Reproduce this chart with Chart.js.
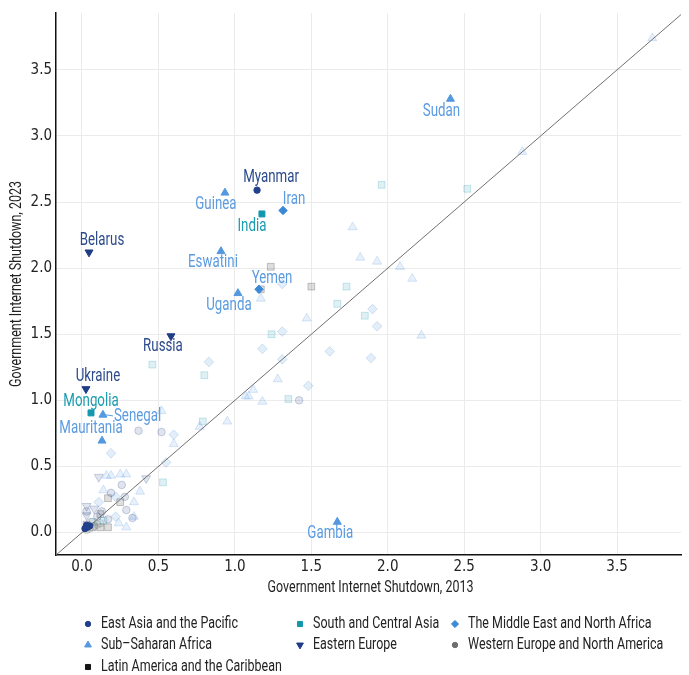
<!DOCTYPE html>
<html>
<head>
<meta charset="utf-8">
<script src="https://cdn.jsdelivr.net/npm/chart.js@4.4.1/dist/chart.umd.min.js"></script>
<style>
  html, body { margin: 0; padding: 0; background: #fff; }
  #wrap { width: 689px; height: 675px; }
</style>
</head>
<body>
<div id="wrap"><canvas id="shutdownChart" width="689" height="675"></canvas></div>
<script>
// ---- data ----
const tickValues = [0, 0.5, 1, 1.5, 2, 2.5, 3, 3.5];
const xTitle = 'Government Internet Shutdown, 2013';
const yTitle = 'Government Internet Shutdown, 2023';

const regionNames = [
    'East Asia and the Pacific',
    'South and Central Asia',
    'The Middle East and North Africa',
    'Sub\u2013Saharan Africa',
    'Eastern Europe',
    'Western Europe and North America',
    'Latin America and the Caribbean'
];

// countries called out on the chart
const labeledCountries = ['Sudan', 'Myanmar', 'Guinea', 'Iran', 'India', 'Belarus', 'Eswatini', 'Yemen',
    'Uganda', 'Russia', 'Ukraine', 'Mongolia', 'Senegal', 'Mauritania', 'Gambia'];
const labeled2013 = [2.41, 1.145, 0.935, 1.315, 1.177, 0.046, 0.909, 1.158, 1.02, 0.582, 0.026, 0.059, 0.137, 0.131, 1.67];
const labeled2023 = [3.28, 2.59, 2.57, 2.436, 2.41, 2.12, 2.127, 1.84, 1.81, 1.486, 1.086, 0.905, 0.89, 0.694, 0.08];
const labeledRegion = [3, 0, 3, 2, 1, 4, 3, 2, 3, 4, 4, 1, 3, 3, 3];

// dark cluster at the origin (East Asia)
const eastAsiaOrigin = [[0.02, 0.03], [0.035, 0.04], [0.05, 0.05], [0.03, 0.055]];

// remaining countries (drawn faded), [2013, 2023]
const eastAsiaOther = [[0.37, 0.77], [0.52, 0.76], [1.42, 1.00], [0.26, 0.36], [0.19, 0.30], [0.28, 0.27],
    [0.29, 0.17], [0.33, 0.11], [0.13, 0.16], [0.17, 0.10], [0.03, 0.16], [0.10, 0.12]];
const southAsiaOther = [[1.96, 2.63], [2.52, 2.60], [1.73, 1.86], [1.67, 1.73], [1.85, 1.64], [1.24, 1.50],
    [0.80, 1.19], [0.46, 1.27], [0.79, 0.84], [0.53, 0.38], [1.35, 1.01], [0.07, 0.08], [0.14, 0.09]];
const middleEastOther = [[1.31, 1.88], [1.90, 1.69], [1.93, 1.56], [1.62, 1.37], [1.89, 1.32], [1.31, 1.52],
    [1.18, 1.39], [1.31, 1.31], [0.83, 1.29], [1.48, 1.11], [0.60, 0.74], [0.19, 0.60], [0.55, 0.53],
    [0.22, 0.27], [0.11, 0.23], [0.22, 0.12]];
const subSaharaOther = [[3.73, 3.74], [2.88, 2.88], [1.77, 2.31], [1.82, 2.08], [1.93, 2.05], [2.08, 2.01],
    [2.16, 1.92], [1.47, 1.62], [2.22, 1.49], [1.17, 1.77], [1.28, 1.16], [1.12, 1.08], [1.07, 1.03],
    [1.09, 1.03], [1.18, 0.99], [0.95, 0.84], [0.52, 0.92], [0.60, 0.67], [0.77, 0.80], [0.16, 0.43],
    [0.19, 0.43], [0.25, 0.44], [0.29, 0.44], [0.14, 0.32], [0.38, 0.31], [0.34, 0.23], [0.34, 0.12],
    [0.24, 0.07], [0.29, 0.04]];
const easternEuropeOther = [[0.11, 0.42], [0.42, 0.41], [0.03, 0.20], [0.08, 0.18], [0.03, 0.13]];
const westernEuropeOther = [[0.03, 0.02], [0.05, 0.03], [0.08, 0.05], [0.10, 0.06], [0.06, 0.08], [0.12, 0.07]];
const latinAmericaOther = [[1.235, 2.01], [1.50, 1.86], [1.17, 1.84], [0.17, 0.26], [0.25, 0.23], [0.17, 0.04],
    [0.12, 0.04], [0.07, 0.04], [0.03, 0.06], [0.12, 0.14]];

const otherByRegion = [eastAsiaOther, southAsiaOther, middleEastOther, subSaharaOther,
    easternEuropeOther, westernEuropeOther, latinAmericaOther];

// ---- styling ----
const TICK_FONT = '"DejaVu Sans Condensed", "Liberation Sans", sans-serif';
const TEXT_FONT = 'Roboto, "DejaVu Sans Condensed", sans-serif';
const axisMin = -0.17, axisMaxX = 3.918, axisMaxY = 3.93;

const regionStyle = [
    { rgb: [35, 64, 138], point: 'circle', rot: 0, r: 3.2, label: '#2b4a8b' },
    { rgb: [20, 150, 175], point: 'rect', rot: 0, r: 4.2, label: '#1a9bb0' },
    { rgb: [58, 136, 214], point: 'rectRot', rot: 0, r: 4.2, label: '#5b9be0' },
    { rgb: [84, 152, 224], point: 'triangle', rot: 0, r: 4.6, label: '#5b9be0' },
    { rgb: [31, 61, 134], point: 'triangle', rot: 180, r: 4.6, label: '#2b4a8b' },
    { rgb: [110, 110, 110], point: 'circle', rot: 0, r: 3.2, label: '#555' },
    { rgb: [20, 20, 20], point: 'rect', rot: 0, r: 4.2, label: '#222' }
];

// label centre offset from its point, in pixels
const labelOffset = {
    Sudan: [-9, 13], Myanmar: [14, -13], Guinea: [-9, 12], Iran: [11, -11], India: [-10, 13],
    Belarus: [13, -12], Eswatini: [-8, 11], Yemen: [13, -11], Uganda: [-9, 12], Russia: [-8, 11],
    Ukraine: [12, -12], Mongolia: [0, -11], Senegal: [11, 2], Mauritania: [-11, -12], Gambia: [-7, 12]
};

function rgba(c, a) { return `rgba(${c[0]}, ${c[1]}, ${c[2]}, ${a})`; }
const toPoints = arr => arr.map(p => ({ x: p[0], y: p[1] }));

// the reference uses a condensed face; squeeze Roboto horizontally
const LEGEND_SIZE = 16.5, LABEL_SIZE = 17.6;
let squeeze = null;
function narrowText(ctx, text, x, y, size, align) {
    if (squeeze === null) {
        ctx.font = LEGEND_SIZE + 'px ' + TEXT_FONT;
        squeeze = 137 / ctx.measureText('East Asia and the Pacific').width;
    }
    ctx.font = size + 'px ' + TEXT_FONT;
    ctx.save();
    ctx.translate(x, y);
    ctx.scale(squeeze, 1);
    ctx.textAlign = align;
    ctx.textBaseline = 'middle';
    ctx.fillText(text, 0, 0);
    ctx.restore();
}

const datasets = [];

regionNames.forEach((name, ri) => {
    const st = regionStyle[ri];
    const main = labeledCountries
        .map((c, i) => ({ x: labeled2013[i], y: labeled2023[i], region: labeledRegion[i] }))
        .filter(p => p.region === ri);
    if (ri === 0) main.push(...toPoints(eastAsiaOrigin));
    datasets.push({
        label: name,
        data: main,
        pointStyle: st.point,
        rotation: st.rot,
        pointRadius: st.r,
        backgroundColor: rgba(st.rgb, 1),
        borderColor: rgba(st.rgb, 1),
        borderWidth: 1,
        order: 0
    });
    datasets.push({
        label: name + ' (other)',
        data: toPoints(otherByRegion[ri]),
        pointStyle: st.point,
        rotation: st.rot,
        pointRadius: st.r + 0.6,
        backgroundColor: rgba(st.rgb, 0.14),
        borderColor: rgba(st.rgb, 0.22),
        borderWidth: 1,
        order: 2
    });
});

// 45 degree reference line across the whole panel
datasets.push({
    type: 'line',
    label: 'y = x',
    data: [{ x: axisMin, y: axisMin }, { x: axisMaxY, y: axisMaxY }],
    borderColor: '#707070',
    borderWidth: 1,
    pointRadius: 0,
    fill: false,
    order: 1
});

// Country labels
const labelPlugin = {
    id: 'countryLabels',
    afterDatasetsDraw(chart) {
        const { ctx, scales: { x, y } } = chart;
        ctx.save();
        labeledCountries.forEach((name, i) => {
            const px = x.getPixelForValue(labeled2013[i]);
            const py = y.getPixelForValue(labeled2023[i]);
            const off = labelOffset[name];
            ctx.fillStyle = regionStyle[labeledRegion[i]].label;
            if (name === 'Senegal') {
                // short leader line
                ctx.strokeStyle = regionStyle[3].label;
                ctx.lineWidth = 1;
                ctx.beginPath();
                ctx.moveTo(px + 3, py);
                ctx.lineTo(px + 10, py + 1);
                ctx.stroke();
                narrowText(ctx, name, px + off[0], py + off[1], LABEL_SIZE, 'left');
            } else {
                narrowText(ctx, name, px + off[0], py + off[1], LABEL_SIZE, 'center');
            }
        });
        ctx.restore();
    }
};

// Axis titles and legend
const framePlugin = {
    id: 'frame',
    afterDraw(chart) {
        const { ctx, chartArea: a } = chart;
        ctx.save();
        ctx.fillStyle = '#222';
        narrowText(ctx, xTitle, (a.left + a.right) / 2 + 2, 588, LEGEND_SIZE, 'center');
        ctx.save();
        ctx.translate(17, (a.top + a.bottom) / 2);
        ctx.rotate(-Math.PI / 2);
        narrowText(ctx, yTitle, 0, 0, LEGEND_SIZE, 'center');
        ctx.restore();

        // legend, three columns
        const cols = [88, 300, 455];
        const rows = [624, 645, 667];
        regionNames.forEach((name, i) => {
            const cx = cols[i % 3], cy = rows[Math.floor(i / 3)];
            const st = regionStyle[i];
            ctx.fillStyle = rgba(st.rgb, 1);
            ctx.strokeStyle = rgba(st.rgb, 1);
            Chart.helpers.drawPoint(ctx, {
                pointStyle: st.point, rotation: st.rot,
                radius: st.r * 0.85, borderWidth: 1
            }, cx, cy);
            ctx.fillStyle = '#222';
            narrowText(ctx, name, cx + 13, cy, LEGEND_SIZE, 'left');
        });
        ctx.restore();
    }
};

const ctx = document.getElementById('shutdownChart').getContext('2d');
const chart = new Chart(ctx, {
    type: 'scatter',
    data: { datasets: datasets },
    options: {
        responsive: false,
        animation: false,
        layout: { padding: { top: 12, right: 8, left: 0, bottom: 0 } },
        plugins: {
            legend: { display: false },
            tooltip: { enabled: false }
        },
        scales: {
            x: {
                type: 'linear',
                min: axisMin,
                max: axisMaxX,
                afterBuildTicks: s => { s.ticks = tickValues.map(v => ({ value: v })); },
                afterFit: s => { s.height = 120; },
                grid: { color: '#ebebeb', lineWidth: 1, drawTicks: false },
                border: { display: true, color: '#111', width: 1.5 },
                ticks: {
                    padding: 3,
                    color: '#222',
                    font: { family: TICK_FONT, size: 15 },
                    callback: v => v.toFixed(1)
                }
            },
            y: {
                type: 'linear',
                min: axisMin,
                max: axisMaxY,
                afterBuildTicks: s => { s.ticks = tickValues.map(v => ({ value: v })); },
                afterFit: s => { s.width = 56; },
                grid: { color: '#ebebeb', lineWidth: 1, drawTicks: false },
                border: { display: true, color: '#111', width: 1.5 },
                ticks: {
                    padding: 4,
                    color: '#222',
                    font: { family: TICK_FONT, size: 15 },
                    callback: v => v.toFixed(1)
                }
            }
        }
    },
    plugins: [labelPlugin, framePlugin]
});
</script>
</body>
</html>
